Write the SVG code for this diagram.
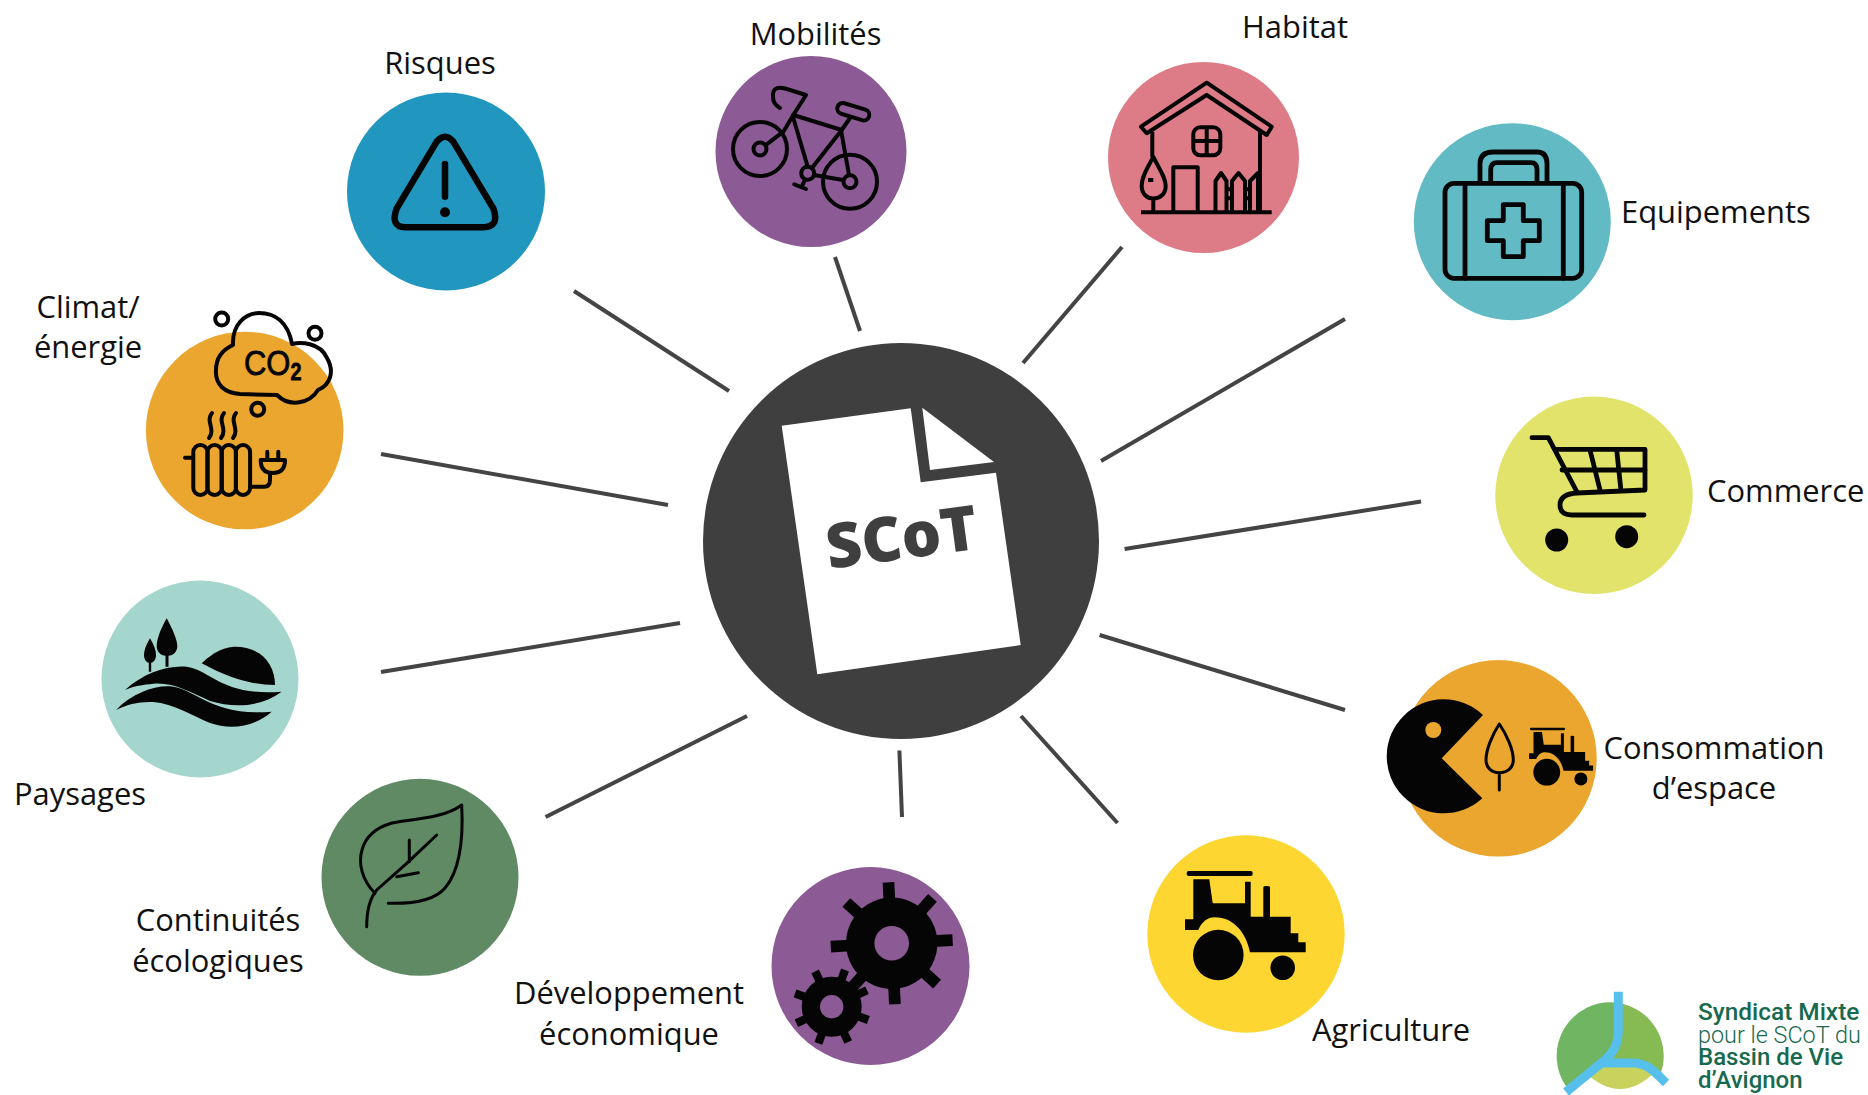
<svg xmlns="http://www.w3.org/2000/svg" width="1868" height="1095" viewBox="0 0 1868 1095">
<style>
.lbl{font-family:"Open Sans","Liberation Sans",sans-serif;font-size:30.9px;fill:#111}
.m{text-anchor:middle}
.ico{fill:none;stroke:#050505;stroke-width:4;stroke-linecap:round;stroke-linejoin:round}
.blk{fill:#050505}
.c{stroke:#444;stroke-width:4;fill:none}
.logo{font-family:Roboto,"Liberation Sans",sans-serif;font-size:24px;fill:#17694f}
</style>
<defs>
<g id="tractor">
<rect x="1186.7" y="871" width="66" height="5" rx="2"/>
<path d="M1193.3 879.3H1209.3L1212.7 903.3H1245V881.7H1250.7V916.7H1263.3V887.3Q1263.3 886 1266.5 886Q1270 886 1270 887.3V916.7H1290.7V933.3H1298.3V942.3H1305.7V952.3H1250C1246 932 1233 917.3 1215 917.3C1207 917.3 1202 922 1198.3 930H1185V919.3H1193.3Z"/>
<circle cx="1218.3" cy="955" r="25.3"/>
<circle cx="1282.7" cy="967.7" r="12.3"/>
</g>
</defs>
<rect width="1868" height="1095" fill="#fff"/>
<g id="connectors">
<path class="c" d="M574 291L729 391"/>
<path class="c" d="M835 257L860 331"/>
<path class="c" d="M1122 247L1023 363"/>
<path class="c" d="M1345 319L1101 461"/>
<path class="c" d="M1421 501.5L1124.6 549"/>
<path class="c" d="M1099.6 635L1345 710"/>
<path class="c" d="M1021 716L1117.5 823"/>
<path class="c" d="M899.4 750.5L902 817"/>
<path class="c" d="M747 716L545.6 817"/>
<path class="c" d="M680 623L381 672"/>
<path class="c" d="M381 454L668 505"/>
</g>
<g id="scot">
<circle cx="901" cy="541" r="198" fill="#3f3f3f"/>
<path fill="#fff" d="M781.7 425.7L910.7 408.3L920.7 482.3L996 472.7L1020.7 645L817.3 674.3Z"/>
<path fill="#fff" d="M922.3 407.7L994 462L930 470Z"/>
<text transform="translate(829 569) rotate(-7.7)" style="font-family:'Open Sans','Liberation Sans',sans-serif;font-weight:800;font-size:62px;fill:#3f3f3f">SCoT</text>
</g>
<g id="risques">
<circle cx="446" cy="191.5" r="99" fill="#2196be"/>
<path class="ico" style="stroke-width:6.5" d="M436.7 141.7Q445 131.7 453.3 141.7L493.3 208.3Q500 226.7 483.3 227.3L405 227.3Q390 226.7 396.7 208.3Z"/>
<path class="ico" style="stroke-width:6.5" d="M445 164V196.7"/>
<circle class="blk" cx="445" cy="212.3" r="5"/>
<text class="lbl m" x="440" y="74">Risques</text>
</g>
<g id="mobilites">
<circle cx="811" cy="151.5" r="95.5" fill="#8c5a94"/>
<g class="ico">
<circle cx="760" cy="149" r="27"/><circle cx="760" cy="149" r="6.5"/>
<circle cx="850" cy="181.7" r="27"/><circle cx="850" cy="181.7" r="6.5"/>
<circle cx="807.7" cy="173.3" r="6.5"/>
<path d="M793.3 115L841.7 130L811.7 168.3M793.3 118L807.7 166.7M841 130L849 175M814 175L843 180"/>
<path d="M793.3 115L783.3 131.7L766.7 144.3"/>
<path d="M793.3 115L806 95L785 88.5Q772 85 773 97Q773 104 780 108"/>
<rect x="836.8" y="106.2" width="33" height="11" rx="5.5" transform="rotate(17 853.3 111.7)"/>
<path d="M850 118L841.7 130M805 180L801.7 186.7M794.3 184.3L806 189"/>
</g>
<text class="lbl m" x="815.5" y="45">Mobilités</text>
</g>
<g id="habitat">
<circle cx="1203.5" cy="157.5" r="95.5" fill="#dd7b87"/>
<g class="ico" style="stroke-linecap:butt">
<path d="M1141 126.7L1206.7 82.7L1271.7 126.7L1266.7 135L1206.7 95L1146.7 133.3Z"/>
<path d="M1152.3 131.7V157M1260 131.7V212M1141 212.3H1271.7"/>
<rect x="1193.3" y="127.3" width="27" height="28" rx="7"/>
<path d="M1206.7 127.3V155.3M1193.3 141H1220.3"/>
<path d="M1173.3 212V167.3H1197.7V212"/>
<path d="M1153.3 157C1146 170 1141.7 178 1141.7 186C1141.7 194 1147 198.5 1153.3 198.5C1160 198.5 1165.7 194 1165.7 186C1165.7 178 1160 170 1153.3 157ZM1153.3 198.5V212M1153.3 180H1148"/>
<path d="M1215.5 212V181L1221 173L1226.5 181V212M1232 212V181L1238.5 173L1245 181V212M1250 212V181L1258 173V212"/>
<path d="M1226.5 189.3H1232M1226.5 198.3H1232M1245 189.3H1250M1245 198.3H1250"/>
</g>
<text class="lbl m" x="1295" y="38">Habitat</text>
</g>
<g id="equipements">
<circle cx="1512.3" cy="221.7" r="98.5" fill="#62bac5"/>
<g class="ico" style="stroke-width:4.8">
<rect x="1445" y="183.3" width="136.7" height="95" rx="9"/>
<path d="M1465 183.3V278.3M1563.3 183.3V278.3"/>
<path d="M1480 181.7V164Q1480 152 1493 152H1537Q1547 152 1547 164V181.7"/>
<path d="M1490.7 181.7V170Q1490.7 162.7 1497 162.7H1531Q1537 162.7 1537 170V181.7"/>
<path d="M1503.3 204.7H1523.3V220.7H1539.3V240.7H1523.3V256.7H1503.3V240.7H1487.3V220.7H1503.3Z"/>
</g>
<text class="lbl" x="1621" y="223">Equipements</text>
</g>
<g id="commerce">
<circle cx="1594" cy="495.3" r="98.7" fill="#e2e36a"/>
<g class="ico" style="stroke-width:4.8">
<path d="M1532 437.7H1548.3L1577 492"/>
<path d="M1556 449.3H1645V490L1577 493Q1560 494 1560 505Q1560 515 1572 515H1644"/>
<path d="M1562 470H1645M1590 450L1600 490M1616.7 450L1620.7 488"/>
</g>
<circle class="blk" cx="1556.7" cy="540" r="11.5"/>
<circle class="blk" cx="1626.7" cy="536.7" r="11.5"/>
<text class="lbl" x="1707" y="501.5">Commerce</text>
</g>
<g id="consommation">
<circle cx="1498.4" cy="758.3" r="98.3" fill="#eaa62e"/>
<path class="blk" d="M1442.7 758.3L1484 715A57 57 0 1 0 1483.3 798.3Z" transform="translate(-1 0)"/>
<circle cx="1433.3" cy="730" r="8" fill="#eaa62e"/>
<path class="ico" style="stroke-width:3" d="M1499.3 724C1492 735 1486 750 1486 760C1486 768 1492 772.7 1499.3 772.7C1507 772.7 1513.3 768 1513.3 760C1513.3 750 1507 735 1499.3 724ZM1499.3 772.7V790"/>
<use href="#tractor" class="blk" transform="translate(1530 729) scale(.53) translate(-1186.7 -873.5)"/>
<text class="lbl m" x="1714" y="759">Consommation</text>
<text class="lbl m" x="1714" y="799">d’espace</text>
</g>
<g id="agriculture">
<circle cx="1246" cy="934" r="98.7" fill="#fdd632"/>
<use href="#tractor" class="blk"/>
<text class="lbl" x="1312" y="1041">Agriculture</text>
</g>
<g id="developpement">
<circle cx="870.5" cy="966" r="99" fill="#8c5a94"/>
<g class="blk">
<circle cx="891.7" cy="943.3" r="45.7"/>
<rect x="885.8" y="882.3" width="11.7" height="20" transform="rotate(-3 891.7 943.3)"/>
<rect x="885.8" y="882.3" width="11.7" height="20" transform="rotate(42 891.7 943.3)"/>
<rect x="885.8" y="882.3" width="11.7" height="20" transform="rotate(87 891.7 943.3)"/>
<rect x="885.8" y="882.3" width="11.7" height="20" transform="rotate(132 891.7 943.3)"/>
<rect x="885.8" y="882.3" width="11.7" height="20" transform="rotate(177 891.7 943.3)"/>
<rect x="885.8" y="882.3" width="11.7" height="20" transform="rotate(222 891.7 943.3)"/>
<rect x="885.8" y="882.3" width="11.7" height="20" transform="rotate(267 891.7 943.3)"/>
<rect x="885.8" y="882.3" width="11.7" height="20" transform="rotate(312 891.7 943.3)"/>
<circle cx="831.7" cy="1006.7" r="30"/>
<rect x="827.5" y="967.7" width="8.3" height="12" transform="rotate(20 831.7 1006.7)"/>
<rect x="827.5" y="967.7" width="8.3" height="12" transform="rotate(65 831.7 1006.7)"/>
<rect x="827.5" y="967.7" width="8.3" height="12" transform="rotate(110 831.7 1006.7)"/>
<rect x="827.5" y="967.7" width="8.3" height="12" transform="rotate(155 831.7 1006.7)"/>
<rect x="827.5" y="967.7" width="8.3" height="12" transform="rotate(200 831.7 1006.7)"/>
<rect x="827.5" y="967.7" width="8.3" height="12" transform="rotate(245 831.7 1006.7)"/>
<rect x="827.5" y="967.7" width="8.3" height="12" transform="rotate(290 831.7 1006.7)"/>
<rect x="827.5" y="967.7" width="8.3" height="12" transform="rotate(335 831.7 1006.7)"/>
</g>
<circle cx="891.7" cy="943.3" r="17.3" fill="#8c5a94"/>
<circle cx="831.7" cy="1006.7" r="11.7" fill="#8c5a94"/>
<text class="lbl m" x="629" y="1004">Développement</text>
<text class="lbl m" x="629" y="1045">économique</text>
</g>
<g id="continuites">
<circle cx="420" cy="877.3" r="98.5" fill="#5f8a64"/>
<g class="ico" style="stroke-width:3">
<path d="M375 893.3C362 880 358 863 362 850C366 835 378 827 392 823C410 819 443 819 461.7 805C463 830 462 868 445 888C435 900 415 904 388.3 903.3"/>
<path d="M436.7 835L406.7 863.3L376.7 890Q366.7 902 366.7 926.7"/>
<path d="M409.3 840V861.7M396.7 876.7L418.3 872.7"/>
</g>
<text class="lbl m" x="218" y="931">Continuités</text>
<text class="lbl m" x="218" y="972">écologiques</text>
</g>
<g id="paysages">
<circle cx="200" cy="679" r="98.5" fill="#a5d6cd"/>
<g class="blk">
<path d="M166.7 618.3C160 630 156.7 640 156.7 646C156.7 652 161 655.7 165.5 655.7V666.7H168.5V655.7C173 655.7 177.3 652 177.3 646C177.3 640 173 630 166.7 618.3Z"/>
<path d="M150 638.3C146 645 144 650 144 655C144 660 147 662.7 148.8 662.7V671.7H151.2V662.7C153 662.7 156 660 156 655C156 650 154 645 150 638.3Z"/>
<path d="M201.7 663.3C215 650 228 646.7 235 646.7C262 646.7 275 665 275 685C255 685 232 680 201.7 663.3Z"/>
<path d="M125 690C143.3 673.3 166.7 665 186.7 666.7C210 670 223.3 696.7 281.7 691.7C260 707.7 233.3 708 210 701C190 692 173.3 682 153.3 683.7C143.3 684.7 133.3 686 125 690Z"/>
<path d="M116 710C133.3 692.3 156.7 684.5 173.3 686.7C196.7 690 213.3 716.7 271.7 711.7C253.3 727.7 230 730 210 723C193.3 716 173.3 703.7 153.3 702C140 701.3 126.7 704.3 116 710Z"/>
</g>
<text class="lbl" x="14" y="805">Paysages</text>
</g>
<g id="climat">
<circle cx="244.7" cy="430.5" r="98.8" fill="#eaa62e"/>
<g class="ico">
<path d="M233 345C232 325 245 313 259 313C275 313 288 322 292 344C300 342 320 342 327 358C335 372 330 385 318 390C310 403 290 408 277 395L240 394C225 393 215 385 216 370C216 358 222 350 233 345Z"/>
<circle cx="221.7" cy="319" r="6.5"/><circle cx="315" cy="333.3" r="6.5"/><circle cx="257.7" cy="409.3" r="6.5"/>
<path d="M212 413C205 421 216 429 209 438M224 413C217 421 228 429 221 438M236 413C229 421 240 429 233 438"/>
<rect x="193.3" y="445" width="14.2" height="50" rx="7"/>
<rect x="207.5" y="445" width="14.2" height="50" rx="7"/>
<rect x="221.7" y="445" width="14.2" height="50" rx="7"/>
<rect x="235.9" y="445" width="14.2" height="50" rx="7"/>
<path d="M185 457.7H193M250 486.7H264Q270 486.7 270 480V473"/>
<path d="M260.7 460H285Q285 473 272.7 473Q260.7 473 260.7 460ZM267.3 451.7V460M278.3 451.7V460"/>
</g>
<text transform="translate(244 375) scale(.86 1)" style="font-family:'Liberation Sans',sans-serif;font-size:36px;fill:#050505;stroke:#050505;stroke-width:.8">CO<tspan dy="5" style="font-size:23px;font-weight:700">2</tspan></text>
<text class="lbl m" x="88" y="318">Climat/</text>
<text class="lbl m" x="88" y="358">énergie</text>
</g>
<g id="logo">
<path fill="#6fb562" d="M1618 1002.9A53.7 53.7 0 0 0 1567.2 1088L1606 1060L1618 1030Z"/>
<path fill="#86ba52" d="M1618 1002.9A53.7 53.7 0 0 1 1659 1078L1638 1063L1603 1063L1618 1030Z"/>
<path fill="#c8d25c" d="M1586 1073L1600 1063H1635L1654 1073Q1620 1105 1586 1073Z"/>
<path fill="none" stroke="#56bfeb" stroke-width="9" d="M1618.3 991.7V1030C1618.3 1045 1613 1053 1605 1060L1566 1092M1602 1063H1635C1648 1064 1655 1072 1666 1083"/>
<text class="logo" x="1698" y="1020" font-weight="500" style="font-size:24.4px">Syndicat Mixte</text>
<text class="logo" x="1698" y="1043" font-weight="300" style="font-size:23.4px">pour le SCoT du</text>
<text class="logo" x="1698" y="1065" font-weight="500">Bassin de Vie</text>
<text class="logo" x="1698" y="1088" font-weight="500">d’Avignon</text>
</g>
</svg>
